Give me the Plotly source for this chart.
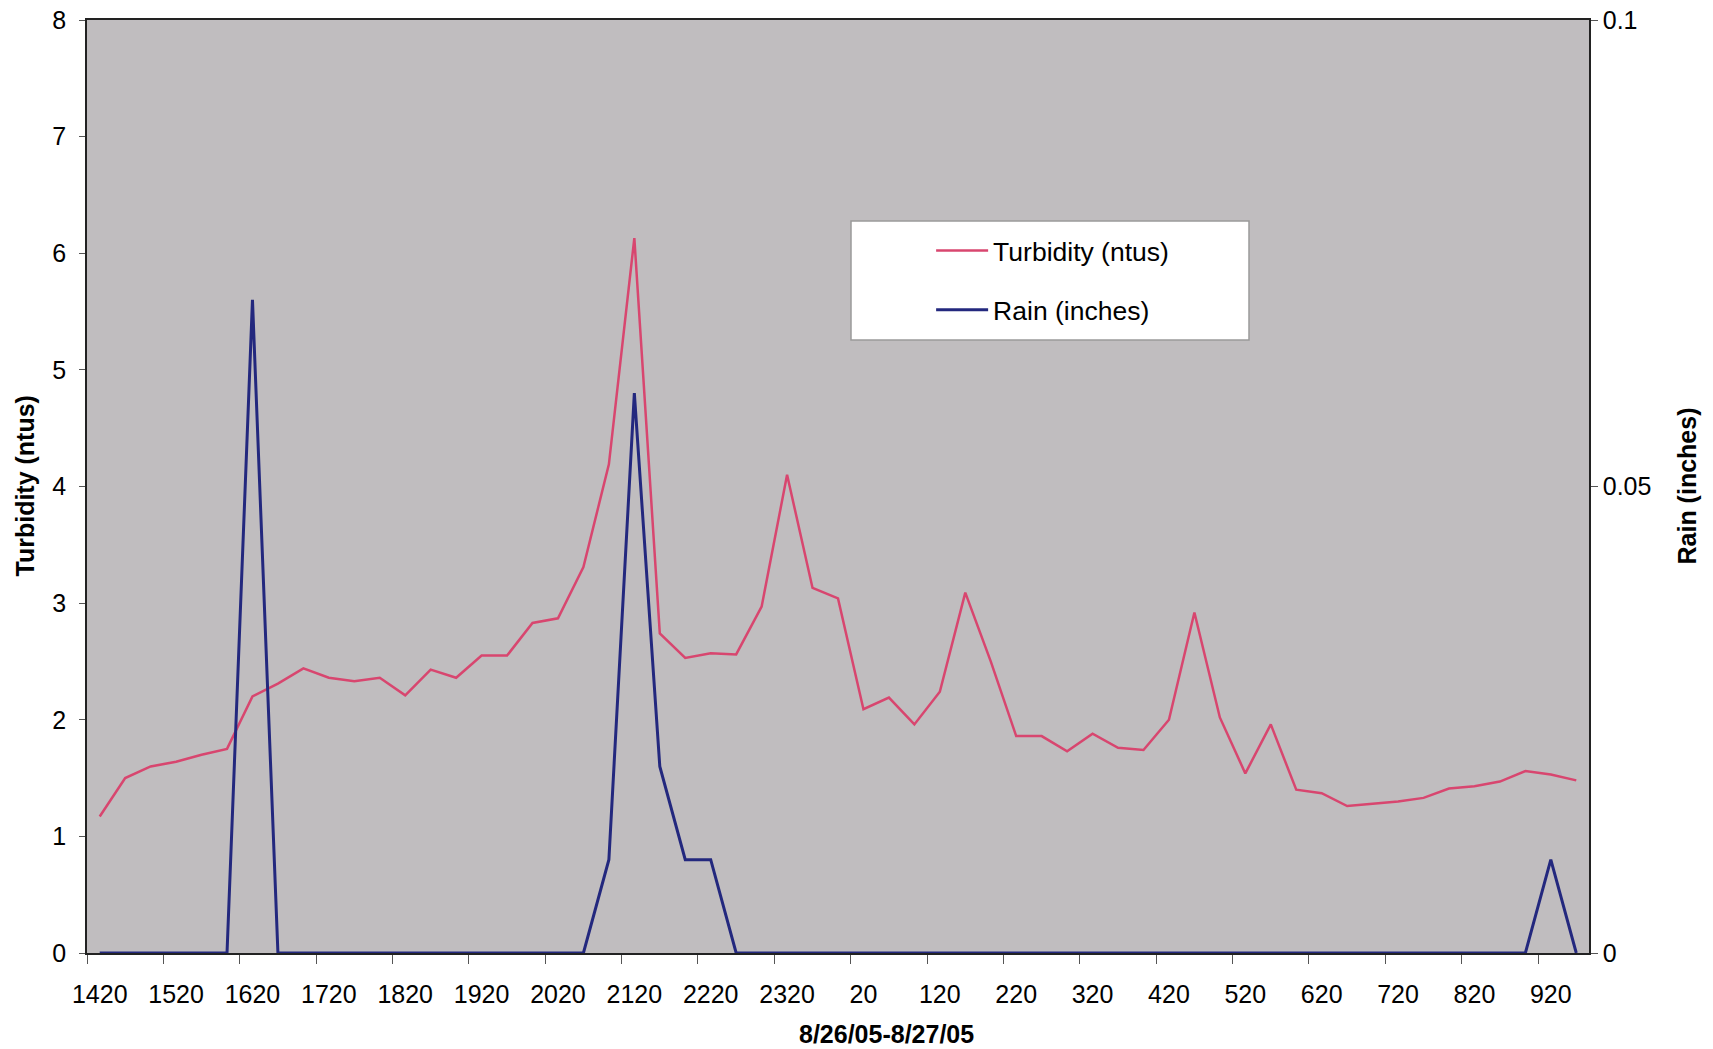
import plotly.graph_objects as go

times = ["1420","1440","1500","1520","1540","1600","1620","1640","1700","1720",
         "1740","1800","1820","1840","1900","1920","1940","2000","2020","2040",
         "2100","2120","2140","2200","2220","2240","2300","2320","2340","0",
         "20","40","100","120","140","200","220","240","300","320",
         "340","400","420","440","500","520","540","600","620","640",
         "700","720","740","800","820","840","900","920","940"]

turbidity = [1.17, 1.50, 1.60, 1.64, 1.70, 1.75, 2.20, 2.31, 2.44, 2.36,
             2.33, 2.36, 2.21, 2.43, 2.36, 2.55, 2.55, 2.83, 2.87, 3.31,
             4.19, 6.13, 2.74, 2.53, 2.57, 2.56, 2.97, 4.10, 3.13, 3.04,
             2.09, 2.19, 1.96, 2.24, 3.09, 2.50, 1.86, 1.86, 1.73, 1.88,
             1.76, 1.74, 2.00, 2.92, 2.02, 1.54, 1.96, 1.40, 1.37, 1.26,
             1.28, 1.30, 1.33, 1.41, 1.43, 1.47, 1.56, 1.53, 1.48]

rain = [0, 0, 0, 0, 0, 0, 0.07, 0, 0, 0,
        0, 0, 0, 0, 0, 0, 0, 0, 0, 0,
        0.01, 0.06, 0.02, 0.01, 0.01, 0, 0, 0, 0, 0,
        0, 0, 0, 0, 0, 0, 0, 0, 0, 0,
        0, 0, 0, 0, 0, 0, 0, 0, 0, 0,
        0, 0, 0, 0, 0, 0, 0, 0.01, 0]

label_step = 3
x_idx = list(range(len(times)))
tick_idx = x_idx[::label_step]
tick_text = times[::label_step]
boundaries = [i - 0.5 for i in tick_idx]

FONT = "Liberation Sans, Arial, sans-serif"
RED = "#d8466f"
BLUE = "#23287e"

fig = go.Figure()
fig.add_trace(go.Scatter(x=x_idx, y=turbidity, mode="lines", name="Turbidity (ntus)",
                         line=dict(color=RED, width=2.5), legendgroup="a"))
fig.add_trace(go.Scatter(x=x_idx, y=rain, mode="lines", name="Rain (inches)",
                         line=dict(color=BLUE, width=3), yaxis="y2", legendgroup="b"))

fig.update_layout(
    width=1713, height=1049,
    margin=dict(l=87, r=124, t=20, b=96, autoexpand=False),
    paper_bgcolor="white",
    plot_bgcolor="#c0bdbf",
    font=dict(family=FONT, size=25, color="black"),
    showlegend=True,
    legend=dict(x=0.562, y=0.7785, xanchor="left", yanchor="top",
                bgcolor="rgba(0,0,0,0)", borderwidth=0,
                font=dict(size=26.5, family=FONT), tracegroupgap=22,
                itemwidth=52),
    xaxis=dict(range=[-0.5, len(times) - 0.5], tickmode="array",
               tickvals=tick_idx, ticktext=tick_text, ticks="",
               ticklabelstandoff=18, automargin=False,
               showgrid=False, zeroline=False, showline=True, mirror=True,
               linecolor="#222", linewidth=1.5, layer="below traces",
               minor=dict(tickmode="array", tickvals=boundaries, ticks="outside",
                          ticklen=9, tickcolor="#555", tickwidth=1, showgrid=False),
               tickfont=dict(size=25)),
    yaxis=dict(range=[0, 8], dtick=1, ticks="outside", ticklen=6, tickcolor="#555",
               ticklabelstandoff=8, automargin=False,
               showgrid=False, zeroline=False, showline=True, mirror=True,
               linecolor="#222", linewidth=1.5, tickfont=dict(size=25)),
    yaxis2=dict(range=[0, 0.1], tickvals=[0, 0.05, 0.1], ticktext=["0", "0.05", "0.1"],
                overlaying="y", side="right", ticks="outside", ticklen=7,
                automargin=False,
                tickcolor="#555", showgrid=False, zeroline=False, showline=True,
                linecolor="#222", linewidth=1.5, tickfont=dict(size=25)),
    shapes=[dict(type="rect", xref="paper", yref="paper",
                 x0=(851 - 87) / 1502, x1=(1249 - 87) / 1502,
                 y0=(953 - 340) / 933, y1=(953 - 221) / 933,
                 fillcolor="white", line=dict(color="#9a9a9a", width=1.5),
                 layer="above")],
    annotations=[
        dict(text="<b>Turbidity (ntus)</b>", xref="paper", yref="paper",
             x=(24 - 87) / 1502, y=0.5, textangle=-90, showarrow=False,
             xanchor="center", yanchor="middle", font=dict(size=25)),
        dict(text="<b>Rain (inches)</b>", xref="paper", yref="paper",
             x=(1686 - 87) / 1502, y=0.5, textangle=-90, showarrow=False,
             xanchor="center", yanchor="middle", font=dict(size=25)),
        dict(text="<b>8/26/05-8/27/05</b>", xref="paper", yref="paper",
             x=(886 - 87) / 1502, y=-(1034 - 953) / 933, showarrow=False,
             xanchor="center", yanchor="middle", font=dict(size=25)),
    ],
)

fig.write_html("out.html")
